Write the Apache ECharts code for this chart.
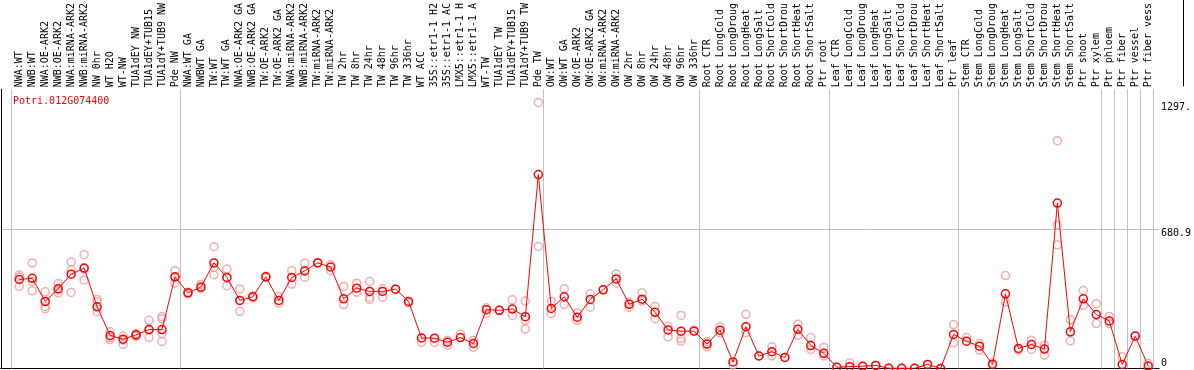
<!DOCTYPE html>
<html><head><meta charset="utf-8">
<script src="https://cdn.jsdelivr.net/npm/echarts@6/dist/echarts.min.js"></script>
<style>html,body{margin:0;padding:0;background:#fff}#c{width:1194px;height:370px}</style>
</head><body><div id="c"></div>
<script>
const geneId = 'Potri.012G074400';
const categories = [
 'NWA:WT','NWB:WT','NWA:OE-ARK2','NWB:OE-ARK2','NWA:miRNA-ARK2','NWB:miRNA-ARK2','NW 0hr','WT H2O','WT-NW','TUA1dEY NW','TUA1dEY+TUB15','TUA1dY+TUB9 NW','Pde NW',
 'NWA:WT GA','NWBWT GA','TW:WT','TW:WT GA','NWA:OE-ARK2 GA','NWB:OE-ARK2 GA','TW:OE-ARK2','TW:OE-ARK2 GA','NWA:miRNA-ARK2','NWB:miRNA-ARK2','TW:miRNA-ARK2','TW:miRNA-ARK2','TW 2hr','TW 8hr','TW 24hr','TW 48hr','TW 96hr','TW 336hr','WT ACC','35S::etr1-1 H2','35S::etr1-1 AC','LMX5::etr1-1 H','LMX5::etr1-1 A','WT-TW','TUA1dEY TW','TUA1dEY+TUB15','TUA1dY+TUB9 TW','Pde TW',
 'OW:WT','OW:WT GA','OW:OE-ARK2','OW:OE-ARK2 GA','OW:miRNA-ARK2','OW:miRNA-ARK2','OW 2hr','OW 8hr','OW 24hr','OW 48hr','OW 96hr','OW 336hr',
 'Root CTR','Root LongCold','Root LongDroug','Root LongHeat','Root LongSalt','Root ShortCold','Root ShortDrou','Root ShortHeat','Root ShortSalt','Ptr root',
 'Leaf CTR','Leaf LongCold','Leaf LongDroug','Leaf LongHeat','Leaf LongSalt','Leaf ShortCold','Leaf ShortDrou','Leaf ShortHeat','Leaf ShortSalt','Ptr leaf',
 'Stem CTR','Stem LongCold','Stem LongDroug','Stem LongHeat','Stem LongSalt','Stem ShortCold','Stem ShortDrou','Stem ShortHeat','Stem ShortSalt','Ptr shoot','Ptr xylem',
 'Ptr phloem','Ptr fiber','Ptr vessel','Ptr fiber vess'
];
const meanValues = [
 434,440,327,389,460,490,301,161,143,164,190,190,447,
 369,397,515,444,332,350,447,332,444,476,515,495,340,392,376,376,387,327,149,148,128,151,122,287,284,290,253,946,
 293,350,250,337,384,437,313,338,274,188,182,182,
 119,187,32,204,61,82,54,191,112,74,
 6,9,11,15,1,1,1,20,0,166,
 133,109,20,364,98,117,95,807,179,340,263,
 232,20,158,12
];
const replicates = [
 [456,445,400],[515,379,426],[374,303,292],[415,369,383],[519,481,371],[555,485,432],[337,324,276],[179,151,141],[158,117,138],[170,158,158],[235,187,151],[254,243,170,132],[477,416,445],
 [372,364],[410,389],[594,493,456],[485,404,444],[388,279,332],[354,344],[450,444],[351,319],[477,412],[513,445],[518],[506,477],[400,312],[416,372],[424,348,337],[389,348],[387],[319],[127],[127],[138,114],[167],[138,103],[296,267],[284],[335,259],[329,235,193],[1297.5,595],
 [327,267],[389,312],[271,235],[364,299],[384],[461,416],[324,299],[369,329],[303,243],[206,154],[259,146,133],[187],
 [130,106],[203,174],[17],[264,174],[61],[106,61],[54],[216,162],[151,93],[103,61],
 [6],[28],[11],[15],[1],[1],[1],[20],[0],[214,125],
 [151],[90,122],[25],[453,324],[90],[138,93],[114,65],[1111,700,603],[238,135],[380,308],[316,219],
 [254,219],[57],[158],[25]
];
const groupEnds = [0,13,41,53,63,73,84,85,86,87,88];
const yGridValue = 680.9;
const yLabelsTop = [680.9, 1297.5];
const yLabelsBottom = [0];
const yMax = 1361.8;

const colW = 13, firstCenter = 19.3, gridLeft = 1, gridRightEdge = 1161;
const xMin = 1 - (firstCenter - gridLeft) / colW;
const xMax = xMin + (gridRightEdge - gridLeft) / colW;
const mono = 'DejaVu Sans Mono';

const repData = [];
replicates.forEach((arr, i) => arr.forEach(v => repData.push([i + 1, v])));

const chart = echarts.init(document.getElementById('c'));
chart.setOption({
  animation: false,
  backgroundColor: '#fff',
  title: { text: geneId, left: 8, top: 91, textStyle: { fontFamily: mono, fontSize: 10, fontWeight: 'normal', color: '#ff0000' } },
  grid: [
    { left: gridLeft, top: 87.5, width: gridRightEdge - gridLeft, bottom: 1.5, containLabel: false },
    { left: 0, top: 0, width: 1183.5, height: 86, containLabel: false }
  ],
  xAxis: [
    { type: 'value', position: 'top', min: xMin, max: xMax,
      axisLine: { show: true, lineStyle: { color: '#000', width: 1 } },
      axisTick: { show: false }, splitLine: { show: false },
      axisLabel: { customValues: categories.map((c, i) => i + 1), formatter: v => categories[Math.round(v) - 1] || '',
        rotate: 90, margin: 2, fontFamily: mono, fontSize: 10, color: '#000' } },
    { type: 'value', position: 'top', min: xMin, max: xMax,
      axisLine: { show: false }, axisLabel: { show: false },
      axisTick: { show: true, customValues: groupEnds.map(g => g + 5 / 13), length: 87.5, lineStyle: { color: '#c0c0c0', width: 1 } },
      splitLine: { show: true, lineStyle: { color: '#c0c0c0', width: 1 } } },
    { type: 'value', position: 'bottom', min: xMin, max: xMax,
      axisLine: { show: true, onZero: false, lineStyle: { color: '#000', width: 1 } },
      axisTick: { show: false }, axisLabel: { show: false }, splitLine: { show: false } },
    { type: 'value', gridIndex: 1, position: 'bottom', min: 0, max: 1,
      axisLine: { show: false }, axisTick: { show: false }, axisLabel: { show: false }, splitLine: { show: false } }
  ],
  yAxis: [
    { type: 'value', position: 'left', min: 0, max: yMax,
      axisLine: { show: true, onZero: false, lineStyle: { color: '#000', width: 1 } },
      axisTick: { show: false }, axisLabel: { show: false }, splitLine: { show: false } },
    { type: 'value', position: 'right', min: 0, max: yMax,
      axisLine: { show: false }, axisTick: { show: false, customValues: [yGridValue] },
      splitLine: { show: true, lineStyle: { color: '#c0c0c0', width: 1 } },
      axisLabel: { customValues: yLabelsTop, formatter: v => String(v).slice(0, 5), verticalAlign: 'top', align: 'left', margin: 2,
        fontFamily: mono, fontSize: 10, color: '#000' } },
    { type: 'value', position: 'right', min: 0, max: yMax,
      axisLine: { show: false }, axisTick: { show: false }, splitLine: { show: false },
      axisLabel: { customValues: yLabelsBottom, formatter: v => String(v), verticalAlign: 'bottom', align: 'left', margin: 2,
        fontFamily: mono, fontSize: 10, color: '#000' } },
    { type: 'value', gridIndex: 1, position: 'right', min: 0, max: 1,
      axisLine: { show: true, onZero: false, lineStyle: { color: '#000', width: 1 } },
      axisTick: { show: false }, axisLabel: { show: false }, splitLine: { show: false } }
  ],
  series: [
    { type: 'scatter', xAxisIndex: 0, yAxisIndex: 0, data: repData, symbol: 'circle', symbolSize: 8,
      itemStyle: { color: 'rgba(0,0,0,0)', borderColor: '#f09a9a', borderWidth: 1.5 }, z: 2 },
    { type: 'line', xAxisIndex: 0, yAxisIndex: 0, data: meanValues.map((v, i) => [i + 1, v]),
      symbol: 'circle', symbolSize: 8, showAllSymbol: true,
      lineStyle: { color: '#ff0000', width: 1 },
      itemStyle: { color: 'rgba(0,0,0,0)', borderColor: '#ff0000', borderWidth: 1.5 }, z: 3 }
  ]
});
</script></body></html>
